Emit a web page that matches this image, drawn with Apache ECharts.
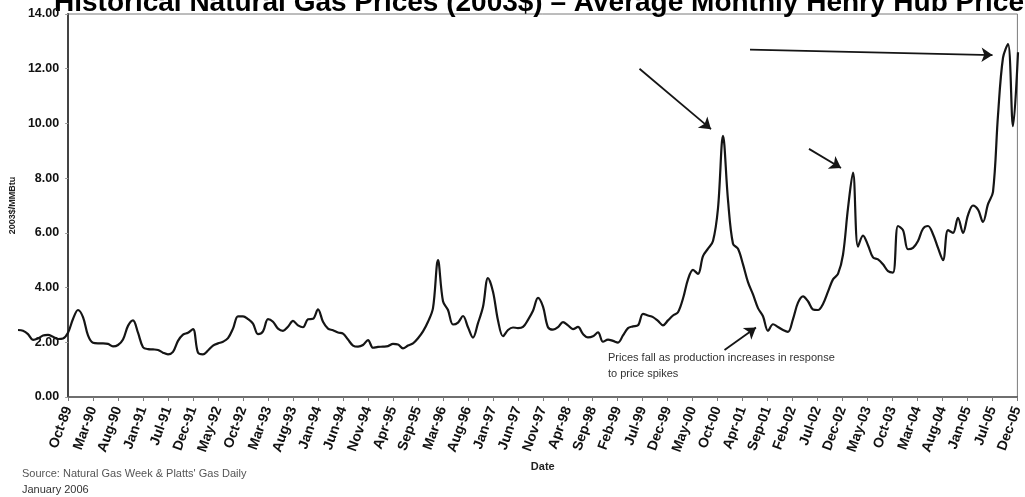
<!DOCTYPE html>
<html>
<head>
<meta charset="utf-8">
<script src="https://cdn.jsdelivr.net/npm/echarts@6/dist/echarts.min.js"></script>
<style>
  html, body { margin: 0; padding: 0; background: #fff; }
  #chart { width: 1025px; height: 497px; }
</style>
</head>
<body>
<div id="chart"></div>
<script>
// Axis tick labels, one every fifth position on the month scale
const tickLabels = [
  'Oct-89', 'Mar-90', 'Aug-90', 'Jan-91', 'Jul-91', 'Dec-91', 'May-92', 'Oct-92',
  'Mar-93', 'Aug-93', 'Jan-94', 'Jun-94', 'Nov-94', 'Apr-95', 'Sep-95', 'Mar-96',
  'Aug-96', 'Jan-97', 'Jun-97', 'Nov-97', 'Apr-98', 'Sep-98', 'Feb-99', 'Jul-99',
  'Dec-99', 'May-00', 'Oct-00', 'Apr-01', 'Sep-01', 'Feb-02', 'Jul-02', 'Dec-02',
  'May-03', 'Oct-03', 'Mar-04', 'Aug-04', 'Jan-05', 'Jul-05', 'Dec-05'
];

// Position of the first monthly price on the month scale (earlier months run left of the axis)
const firstMonthPosition = -10;

// Average monthly Henry Hub price, 2003$/MMBtu
const monthlyPrices = [
  2.45, 2.42, 2.30, 2.09, 2.14, 2.25, 2.27, 2.20, 2.12, 2.14,
  2.35, 2.85, 3.18, 2.92, 2.25, 1.98, 1.96, 1.96, 1.94, 1.85,
  1.90, 2.10, 2.60, 2.80, 2.35, 1.82, 1.75, 1.74, 1.72, 1.62,
  1.56, 1.65, 2.05, 2.28, 2.35, 2.48, 1.62, 1.56, 1.70, 1.88,
  1.96, 2.02, 2.15, 2.50, 2.95, 2.95, 2.85, 2.68, 2.30, 2.40,
  2.85, 2.75, 2.50, 2.42, 2.57, 2.78, 2.62, 2.55, 2.84, 2.86,
  3.20, 2.75, 2.50, 2.44, 2.36, 2.32, 2.10, 1.88, 1.84, 1.90,
  2.08, 1.80, 1.83, 1.84, 1.86, 1.94, 1.92, 1.78, 1.88, 1.96,
  2.15, 2.40, 2.75, 3.25, 5.00, 3.50, 3.18, 2.65, 2.72, 2.96,
  2.55, 2.17, 2.70, 3.30, 4.35, 3.85, 2.80, 2.22, 2.45, 2.54,
  2.52, 2.56, 2.82, 3.15, 3.62, 3.30, 2.55, 2.46, 2.55, 2.74,
  2.62, 2.48, 2.56, 2.30, 2.18, 2.22, 2.36, 2.02, 2.10, 2.05,
  1.99, 2.25, 2.52, 2.58, 2.62, 3.04, 2.98, 2.92, 2.78, 2.62,
  2.80, 2.98, 3.10, 3.60, 4.30, 4.65, 4.50, 5.15, 5.42, 5.70,
  6.90, 9.55, 7.20, 5.60, 5.42, 4.85, 4.20, 3.75, 3.25, 2.95,
  2.42, 2.66, 2.56, 2.45, 2.38, 2.85, 3.45, 3.68, 3.50, 3.20,
  3.18, 3.40, 3.85, 4.30, 4.50, 5.20, 6.90, 8.20, 5.50, 5.90,
  5.55, 5.10, 5.03, 4.85, 4.60, 4.55, 6.25, 6.10, 5.40, 5.45,
  5.70, 6.15, 6.25, 5.95, 5.45, 5.00, 6.10, 6.00, 6.55, 6.00,
  6.65, 7.00, 6.85, 6.40, 7.05, 7.50, 10.30, 12.40, 12.90, 9.90,
  12.60
];

// Callout arrows as [from, to] in (month position, price) coordinates
const calloutArrows = [
  [[114.3, 12.00], [128.6, 9.79]],
  [[148.2, 9.07], [154.6, 8.37]],
  [[136.4, 12.70], [184.9, 12.50]],
  [[131.3, 1.72], [137.6, 2.54]]
];

const calloutText = ['Prices fall as production increases in response', 'to price spikes'];
const titleText = 'Historical Natural Gas Prices (2003$) \u2013 Average Monthly Henry Hub Prices';
const sourceLines = ["Source: Natural Gas Week & Platts' Gas Daily", 'January 2006'];

const FONT = '"Liberation Sans", Arial, sans-serif';
const lastPosition = (tickLabels.length - 1) * 5;
const pxPerMonth = (1025 - 68 - 7) / lastPosition;

const seriesData = monthlyPrices.map((v, i) => [firstMonthPosition + i, v]);

const chart = echarts.init(document.getElementById('chart'), null, { renderer: 'canvas' });

chart.setOption({
  animation: false,
  backgroundColor: '#ffffff',
  grid: [
    // framed plot area with the labelled axes
    { left: 68, right: 7, top: 14, bottom: 100,
      show: true, borderColor: '#7a7a7a', borderWidth: 1, backgroundColor: 'transparent' },
    // same scale, widened so the months before Oct-89 are drawn left of the axis
    { left: 68 + firstMonthPosition * pxPerMonth, right: 7, top: 14, bottom: 100, show: false }
  ],
  xAxis: [{
    gridIndex: 0,
    type: 'value',
    min: 0,
    max: lastPosition,
    interval: 5,
    name: 'Date',
    nameLocation: 'middle',
    nameGap: 64,
    nameTextStyle: { fontFamily: FONT, fontWeight: 'bold', fontSize: 11, color: '#222' },
    axisLine: { show: true, lineStyle: { color: '#555', width: 1.5 } },
    axisTick: { show: true, inside: false, length: 4, lineStyle: { color: '#777' } },
    splitLine: { show: false },
    axisLabel: {
      rotate: 70,
      margin: 10,
      fontFamily: FONT,
      fontWeight: 'bold',
      fontSize: 14,
      color: '#111',
      formatter: (v) => tickLabels[Math.round(v / 5)] || ''
    }
  }, {
    gridIndex: 1,
    type: 'value',
    min: firstMonthPosition,
    max: lastPosition,
    show: false
  }],
  yAxis: [{
    gridIndex: 0,
    type: 'value',
    min: 0,
    max: 14,
    interval: 2,
    name: '2003$/MMBtu',
    nameLocation: 'middle',
    nameGap: 51,
    nameTextStyle: { fontFamily: FONT, fontWeight: 'bold', fontSize: 9, color: '#222' },
    axisLine: { show: true, lineStyle: { color: '#444', width: 2 } },
    axisTick: { show: true, inside: false, length: 3, lineStyle: { color: '#999' } },
    splitLine: { show: false },
    axisLabel: {
      margin: 9,
      fontFamily: FONT,
      fontWeight: 'bold',
      fontSize: 12.5,
      color: '#111',
      formatter: (v) => v.toFixed(2)
    }
  }, {
    gridIndex: 1,
    type: 'value',
    min: 0,
    max: 14,
    show: false
  }],
  series: [{
    type: 'line',
    xAxisIndex: 1,
    yAxisIndex: 1,
    data: seriesData,
    clip: false,
    smooth: 0.35,
    showSymbol: false,
    silent: true,
    z: 5,
    lineStyle: { color: '#151515', width: 2.2 },
    markLine: {
      silent: true,
      symbol: ['none', 'arrow'],
      symbolSize: 11,
      label: { show: false },
      lineStyle: { color: '#151515', width: 1.8, type: 'solid' },
      emphasis: { disabled: true },
      data: calloutArrows.map(([a, b]) => [{ coord: a }, { coord: b }])
    }
  }],
  graphic: [
    {
      type: 'text', x: 54, y: 3, silent: true,
      style: {
        text: titleText, fill: '#000',
        font: 'bold 28px ' + FONT, verticalAlign: 'middle'
      }
    },
    {
      type: 'text', x: 608, y: 358, silent: true,
      style: {
        text: calloutText[0], fill: '#333',
        font: '11px ' + FONT, verticalAlign: 'middle'
      }
    },
    {
      type: 'text', x: 608, y: 374, silent: true,
      style: {
        text: calloutText[1], fill: '#333',
        font: '11px ' + FONT, verticalAlign: 'middle'
      }
    },
    {
      type: 'text', x: 22, y: 474, silent: true,
      style: {
        text: sourceLines[0], fill: '#555',
        font: '11px ' + FONT, verticalAlign: 'middle'
      }
    },
    {
      type: 'text', x: 22, y: 490, silent: true,
      style: {
        text: sourceLines[1], fill: '#333',
        font: '11px ' + FONT, verticalAlign: 'middle'
      }
    }
  ]
});
</script>
</body>
</html>
